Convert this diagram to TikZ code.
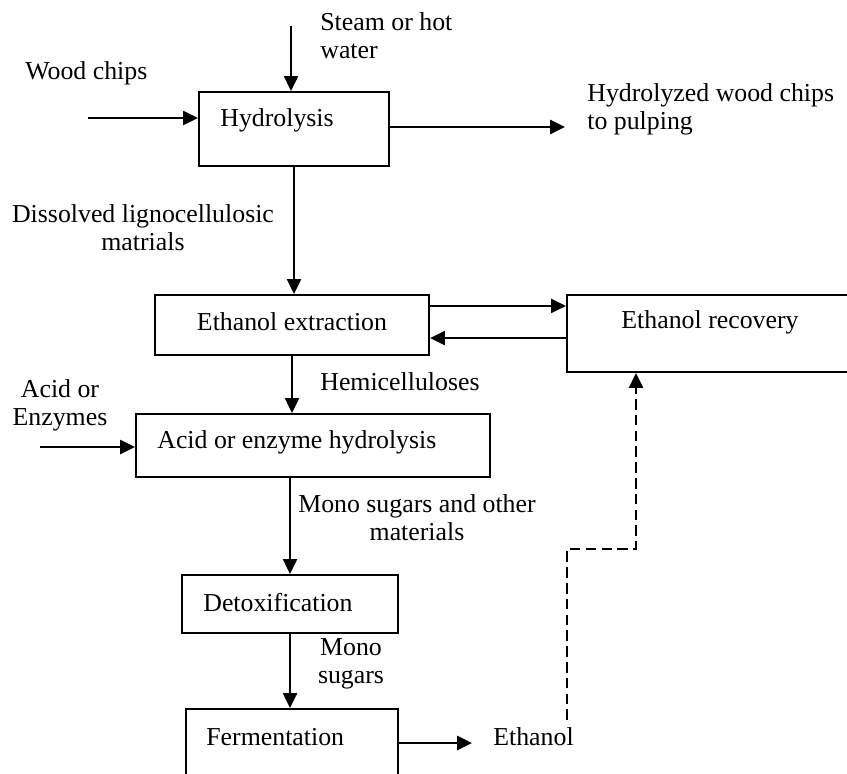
\documentclass[tikz,border=0pt]{standalone}
\usepackage{fontspec}
\setmainfont{Liberation Serif}
\usepackage{tikz}
\usetikzlibrary{arrows.meta, positioning, calc}

\begin{document}
\begin{tikzpicture}[x=0.02cm, y=-0.02cm,
    every node/.style={font=\fontsize{14.7}{16}\selectfont, inner sep=0pt},
    proc/.style={draw, line width=1.2pt, rectangle},
    flow/.style={line width=1.3pt, -{Triangle[length=8.5pt, width=8pt]}},
    recycle/.style={flow, dash pattern=on 6pt off 3pt}]
    \useasboundingbox (0,0) rectangle (847,773);
    \clip (0,0) rectangle (847,773);

    % Process boxes
    \node[proc, minimum width=3.8cm, minimum height=1.48cm] (hyd) at (294,129) {};
    \node[proc, minimum width=5.48cm, minimum height=1.2cm] (ext) at (292,325) {};
    \node[proc, minimum width=6.26cm, minimum height=1.54cm] (rec) at (723.5,333.5) {};
    \node[proc, minimum width=7.08cm, minimum height=1.26cm] (acid) at (313,445.5) {};
    \node[proc, minimum width=4.32cm, minimum height=1.16cm] (det) at (290,604) {};
    \node[proc, minimum width=4.24cm, minimum height=2cm] (fer) at (292,759) {};

    % Box texts
    \node[anchor=west] (hydtxt) at (220,120) {Hydrolysis};
    \node (exttxt) at (292,322) {Ethanol extraction};
    \node (rectxt) at (710,322) {Ethanol recovery};
    \node[anchor=west] (acidtxt) at (157,442) {Acid or enzyme hydrolysis};
    \node[anchor=west] (dettxt) at (203,603) {Detoxification};
    \node[anchor=west] (fertxt) at (206,737) {Fermentation};

    % Streams in and out
    \node[anchor=west, align=left] (steam) at (320,36) {Steam or hot\\water};
    \node[anchor=west] (wood) at (25,73) {Wood chips};
    \node[anchor=west, align=left] (pulp) at (587,109) {Hydrolyzed wood chips\\to pulping};
    \node[align=center] (dissolved) at (143,228) {Dissolved lignocellulosic\\matrials};
    \node[anchor=west] (hemi) at (320,382) {Hemicelluloses};
    \node[align=center] (reagent) at (60,405) {Acid or\\Enzymes};
    \node[align=center] (mono) at (417,518) {Mono sugars and other\\materials};
    \node[align=center] (sugars) at (351,664) {Mono\\sugars};
    \node[anchor=west] (ethanol) at (493,737) {Ethanol};

    \coordinate (steamin) at (291,26);
    \coordinate (woodin) at (88,118);
    \coordinate (pulpout) at (565,127);
    \coordinate (torec) at ($(ext.north east)+(0,12)$);
    \coordinate (fromrec) at ($(ext.south east)+(0,-18)$);
    \coordinate (acidin) at (40,447);
    \coordinate (ethout) at (472,743);
    \coordinate (ethtap) at (567,720);
    \coordinate (bend) at (636,549);

    % Main line
    \draw[flow] (steamin) -- (steamin |- hyd.north);
    \draw[flow] (woodin) -- (woodin -| hyd.west);
    \draw[flow] (pulpout -| hyd.east) -- (pulpout);
    \draw[flow] (hyd.south) -- (hyd.south |- ext.north);
    \draw[flow] (torec) -- (torec -| rec.west);
    \draw[flow] (fromrec -| rec.west) -- (fromrec);
    \draw[flow] (ext.south) -- (ext.south |- acid.north);
    \draw[flow] (acidin) -- (acidin -| acid.west);
    \draw[flow] (det.north |- acid.south) -- (det.north);
    \draw[flow] (det.south) -- (det.south |- fer.north);
    \draw[flow] (ethout -| fer.east) -- (ethout);

    % Ethanol back to recovery
    \draw[recycle] (ethtap) |- (bend) -- (bend |- rec.south);
\end{tikzpicture}
\end{document}
